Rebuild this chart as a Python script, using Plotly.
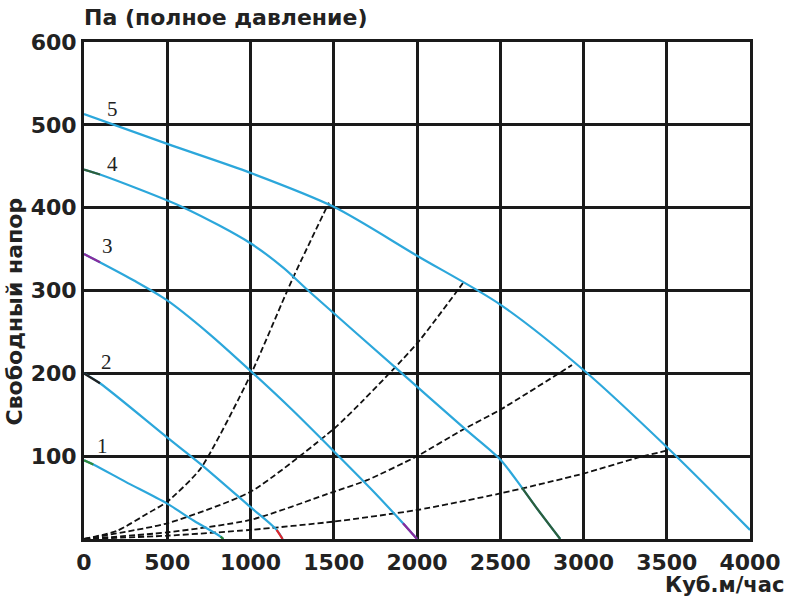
import plotly.graph_objects as go

# ---- data ----
x_ticks = [0, 500, 1000, 1500, 2000, 2500, 3000, 3500, 4000]
x_tick_labels = ["0", "500", "1000", "1500", "2000", "2500", "3000", "3500", "4000"]
y_ticks = [100, 200, 300, 400, 500, 600]
y_tick_labels = ["100", "200", "300", "400", "500", "600"]

curve1_x = [0, 56, 250, 497, 660, 820, 837]
curve1_y = [95, 90, 69, 43, 22, 3, 0]
curve2_x = [0, 96, 497, 697, 997, 1157, 1193]
curve2_y = [200, 188, 123, 91, 39, 11, 0]
curve3_x = [0, 96, 300, 500, 750, 1000, 1250, 1500, 1750, 1916, 2000]
curve3_y = [344, 334, 312, 288, 248, 203, 156, 106, 55, 19, 0]
curve4_x = [0, 96, 600, 1000, 1200, 1346, 1910, 2276, 2500, 2630, 2720, 2860]
curve4_y = [446, 440, 400, 357, 327, 300, 200, 135, 96, 62, 37, 0]
curve5_x = [0, 500, 1000, 1500, 2000, 2500, 3000, 3500, 4000]
curve5_y = [513, 477, 442, 401, 342, 283, 204, 111, 11]

sys1_x = [0, 200, 400, 500, 700, 1000, 1250, 1471]
sys1_y = [0, 10, 33, 45, 85, 198, 313, 406]
sys2_x = [0, 500, 1000, 1500, 1680, 2000, 2276]
sys2_y = [0, 19, 57, 133, 168, 236, 309]
sys3_x = [0, 500, 1000, 1500, 1700, 2000, 2275, 2500, 2931]
sys3_y = [0, 8, 23, 57, 71, 100, 132, 156, 210]
sys4_x = [0, 500, 1000, 1500, 2000, 2500, 3000, 3340, 3507]
sys4_y = [0, 4, 11, 21, 35, 55, 79, 99, 107]

curve_labels = ["1", "2", "3", "4", "5"]
label_x = [114, 138, 144, 174, 174]
label_y = [112, 214, 354, 453, 519]

# ---- styles ----
BLUE = "#2ca7db"
curves = [
    (curve1_x, curve1_y, ("#2f8a3c", 2), ("#2f8a3c", 5)),
    (curve2_x, curve2_y, ("#222222", 2), ("#e0262a", 5)),
    (curve3_x, curve3_y, ("#8a2a9c", 2), ("#8a2a9c", 9)),
    (curve4_x, curve4_y, ("#2d5e3a", 2), ("#2d5e3a", 9)),
    (curve5_x, curve5_y, None, None),
]
systems = [(sys1_x, sys1_y), (sys2_x, sys2_y), (sys3_x, sys3_y), (sys4_x, sys4_y)]

fig = go.Figure()

for sx, sy in systems:
    fig.add_trace(go.Scatter(x=sx, y=sy, mode="lines",
                             line=dict(color="#111111", width=1.8, dash="6px,3px",
                                       shape="spline", smoothing=0.6),
                             hoverinfo="skip", showlegend=False))

for cx, cy, start, end in curves:
    fig.add_trace(go.Scatter(x=cx, y=cy, mode="lines",
                             line=dict(color=BLUE, width=2.2, shape="spline", smoothing=0.8),
                             hoverinfo="skip", showlegend=False))
    if start:
        col, k = start
        fig.add_trace(go.Scatter(x=cx[:k], y=cy[:k], mode="lines",
                                 line=dict(color=col, width=2.2),
                                 hoverinfo="skip", showlegend=False))
    if end:
        col, k = end
        fig.add_trace(go.Scatter(x=cx[k:], y=cy[k:], mode="lines",
                                 line=dict(color=col, width=2.2, shape="spline", smoothing=0.8),
                                 hoverinfo="skip", showlegend=False))

for t, lx, ly in zip(curve_labels, label_x, label_y):
    fig.add_annotation(x=lx, y=ly, xref="x", yref="y", text=t, showarrow=False,
                       font=dict(family="Liberation Serif", size=21, color="#222"))

BOLD = dict(family="DejaVu Sans", size=22, color="#222", weight="bold")

fig.add_annotation(xref="paper", yref="paper", x=0, y=1, xanchor="left", yanchor="middle",
                   xshift=-2, yshift=25, text="Па (полное давление)", showarrow=False,
                   font=dict(family="DejaVu Sans", size=22, color="#222", weight="bold"))
fig.add_annotation(xref="paper", yref="paper", x=1, y=0, xanchor="right", yanchor="middle",
                   xshift=36, yshift=-46, text="Куб.м/час", showarrow=False,
                   font=dict(family="DejaVu Sans", size=21, color="#222", weight="bold"))
fig.add_annotation(xref="paper", yref="paper", x=0, y=0.5, xanchor="center", yanchor="middle",
                   xshift=-70, yshift=-21, text="Свободный напор", textangle=-90, showarrow=False,
                   font=dict(family="DejaVu Sans", size=22, color="#222", weight="bold"))

fig.update_xaxes(range=[0, 4000], tickvals=x_ticks, ticktext=x_tick_labels,
                 showgrid=True, gridcolor="#1a1a1a", gridwidth=3,
                 showline=True, linecolor="#1a1a1a", linewidth=3, mirror=True,
                 zeroline=False, tickfont=BOLD, ticks="", ticklabelstandoff=2,
                 automargin=False)
fig.update_yaxes(range=[0, 600], tickvals=y_ticks, ticktext=y_tick_labels,
                 showgrid=True, gridcolor="#1a1a1a", gridwidth=3,
                 showline=True, linecolor="#1a1a1a", linewidth=3, mirror=True,
                 zeroline=False, tickfont=BOLD, ticks="", ticklabelstandoff=0,
                 automargin=False)

fig.update_layout(width=800, height=601, margin=dict(l=84, r=50, t=42, b=62),
                  plot_bgcolor="white", paper_bgcolor="white")

# remove the page's default 8px body margin so the figure fills the window exactly
fig.write_html("out.html", config={"displayModeBar": False},
               post_script="document.body.style.margin='0';document.body.style.overflow='hidden';")
